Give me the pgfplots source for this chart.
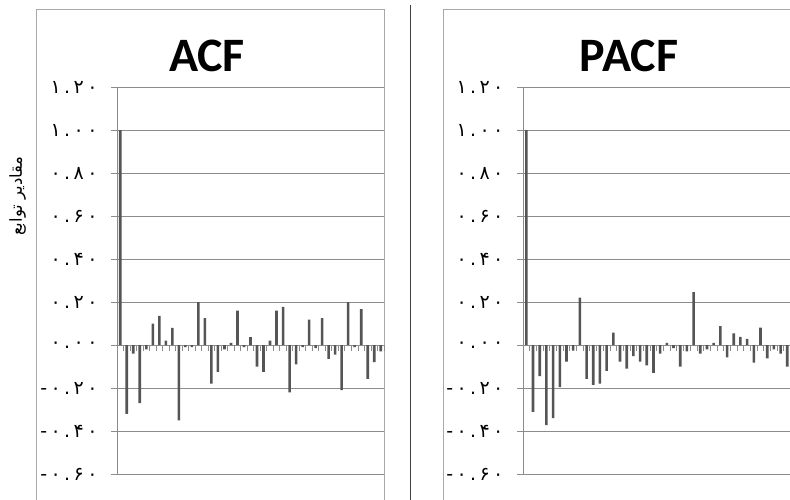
\documentclass[border=0pt]{standalone}
\usepackage{fontspec}
\setmainfont{Carlito}
\newfontfamily\arabicfont[Script=Arabic]{DejaVu Sans}
\newfontfamily\digitfont[LetterSpace=18]{DejaVu Sans}
\TeXXeTstate=1
\usepackage{pgfplots}
\usepackage{pgfplotstable}
\pgfplotsset{compat=1.18}
\definecolor{gridc}{HTML}{8C8C8C}
\definecolor{barc}{HTML}{555555}
\definecolor{framec}{HTML}{A8A8A8}

\pgfplotstableread{
lag val
0 1.000
1 -0.320
2 -0.040
3 -0.270
4 -0.020
5 0.100
6 0.136
7 0.020
8 0.080
9 -0.350
10 -0.010
11 -0.010
12 0.200
13 0.125
14 -0.180
15 -0.125
16 -0.020
17 0.010
18 0.160
19 -0.010
20 0.037
21 -0.100
22 -0.125
23 0.020
24 0.160
25 0.177
26 -0.220
27 -0.090
28 -0.010
29 0.118
30 -0.015
31 0.125
32 -0.065
33 -0.045
34 -0.210
35 0.200
36 -0.010
37 0.167
38 -0.158
39 -0.080
40 -0.030
}\acfdata

\pgfplotstableread{
lag val
0 1.000
1 -0.311
2 -0.145
3 -0.373
4 -0.340
5 -0.196
6 -0.077
7 -0.026
8 0.220
9 -0.157
10 -0.185
11 -0.180
12 -0.120
13 0.058
14 -0.077
15 -0.110
16 -0.052
17 -0.077
18 -0.095
19 -0.130
20 -0.040
21 0.010
22 -0.015
23 -0.100
24 -0.030
25 0.246
26 -0.040
27 -0.020
28 0.010
29 0.088
30 -0.057
31 0.054
32 0.038
33 0.028
34 -0.082
35 0.081
36 -0.062
37 -0.020
38 -0.040
39 -0.100
40 -0.020
}\pacfdata

\pgfplotsset{corrstyle/.style={
  scale only axis, anchor=south west,
  height=387pt,
  ymin=-0.6, ymax=1.2, xmin=-0.5, xmax=40.5,
  axis x line*=middle, axis y line*=left,
  ytick={-0.6,-0.4,-0.2,0,0.2,0.4,0.6,0.8,1.0,1.2},
  yticklabels={{-۰.۶۰},{-۰.۴۰},{-۰.۲۰},{۰.۰۰},{۰.۲۰},{۰.۴۰},{۰.۶۰},{۰.۸۰},{۱.۰۰},{۱.۲۰}},
  ymajorgrids, grid style={gridc, line width=0.9pt},
  axis line style={gridc, line width=0.9pt},
  tick style={gridc, line width=0.9pt},
  major tick length=6pt,
  xtick={-0.5,0.5,...,40.5}, xticklabels={},
  ytick align=outside, xtick align=outside,
  yticklabel style={font=\digitfont\fontsize{19}{19}\selectfont, anchor=east, xshift=-10pt},
  ybar, bar width=2.6pt,
}}

\begin{document}
\begin{tikzpicture}[x=1pt,y=1pt]
\path[use as bounding box] (0,0) rectangle (790,499);
\clip (0,0) rectangle (790,499);
\fill[white] (0,0) rectangle (790,499);
% frames
\draw[framec, line width=0.9pt] (36,-5) -- (36,489.5) -- (384,489.5) -- (384,-5);
\draw[framec, line width=0.9pt] (443.5,-5) -- (443.5,489.5) -- (820,489.5);
\draw[black!75, line width=1pt] (410,-5) -- (410,494);
% titles
\node[anchor=base, font=\bfseries\fontsize{48}{48}\selectfont, inner sep=0pt] at (207,427.5) {ACF};
\node[anchor=base, font=\bfseries\fontsize{48}{48}\selectfont, inner sep=0pt] at (629,427.5) {PACF};
% y label
\node[rotate=90, font=\arabicfont\fontsize{16.5}{16.5}\selectfont] at (17.5,303) {\beginR مقادیر توابع\endR};

\begin{axis}[corrstyle, at={(117pt,25pt)}, width=267pt]
\addplot[fill=barc, draw=none] table[x=lag, y=val] {\acfdata};
\end{axis}

\begin{axis}[corrstyle, at={(523pt,25pt)}, width=274.3pt]
\addplot[fill=barc, draw=none] table[x=lag, y=val] {\pacfdata};
\end{axis}
\end{tikzpicture}
\end{document}
